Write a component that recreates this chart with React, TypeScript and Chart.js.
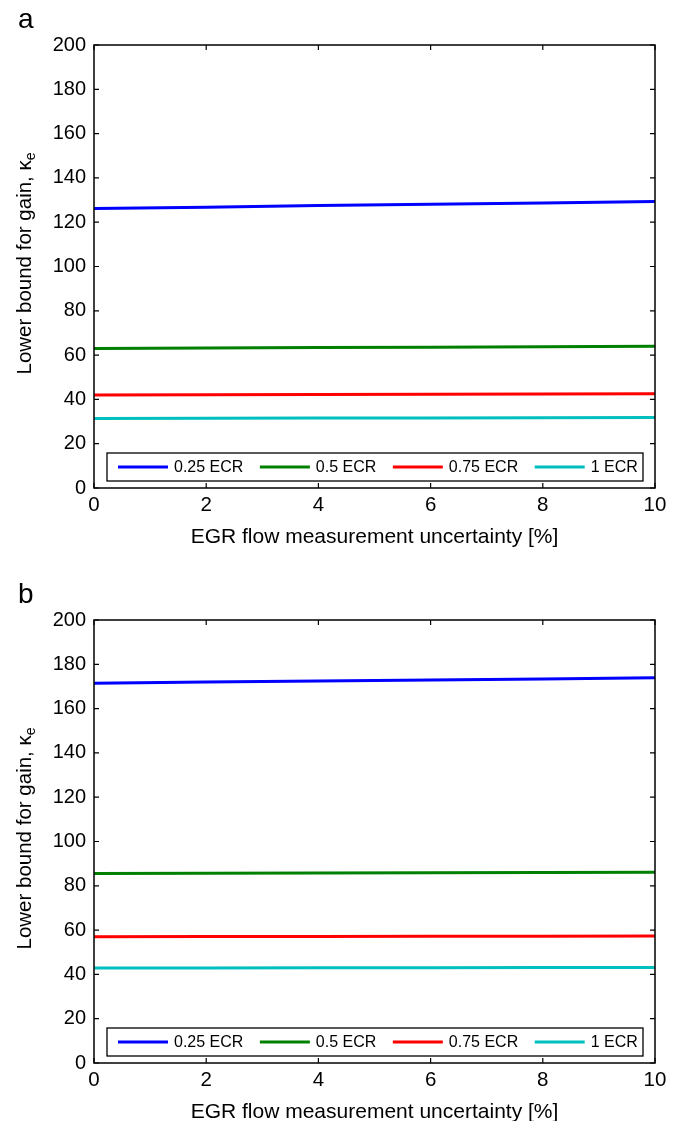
import React, { useEffect, useRef } from "react";
import { Chart, registerables } from "chart.js";

Chart.register(...registerables);

const FONT = '"Liberation Sans", Arial, Helvetica, sans-serif';

// x values: EGR flow measurement uncertainty [%]
const xValues = [0, 2, 4, 6, 8, 10];
const xTicks = [0, 2, 4, 6, 8, 10];
const yTicks = [0, 20, 40, 60, 80, 100, 120, 140, 160, 180, 200];

const seriesLabels = ["0.25 ECR", "0.5 ECR", "0.75 ECR", "1 ECR"];
const seriesColors = ["#0000ff", "#008000", "#ff0000", "#00bfbf"];

// panel a
const a025 = [126.2, 126.8, 127.5, 128.1, 128.7, 129.3];
const a05 = [63.0, 63.2, 63.4, 63.6, 63.8, 64.0];
const a075 = [42.0, 42.1, 42.2, 42.3, 42.4, 42.5];
const a1 = [31.4, 31.5, 31.6, 31.6, 31.7, 31.8];

// panel b
const b025 = [171.5, 172.0, 172.5, 172.9, 173.4, 173.9];
const b05 = [85.6, 85.7, 85.8, 85.9, 86.0, 86.1];
const b075 = [57.0, 57.1, 57.1, 57.2, 57.2, 57.3];
const b1 = [42.9, 42.9, 43.0, 43.0, 43.1, 43.1];

const xTitle = "EGR flow measurement uncertainty [%]";
const yTitleMain = "Lower bound for gain, \u03ba";
const yTitleSub = "e";

function makeChart(canvas: HTMLCanvasElement, panel: string, series: number[][]) {
  const decorPlugin = {
    id: "decor" + panel,
    afterDraw(chart: any) {
      const ctx = chart.ctx as CanvasRenderingContext2D;
      const area = chart.chartArea;
      const xs = chart.scales.x;
      const ys = chart.scales.y;
      ctx.save();
      // frame
      ctx.strokeStyle = "#000";
      ctx.lineWidth = 1.5;
      ctx.strokeRect(area.left, area.top, area.right - area.left, area.bottom - area.top);
      // inner ticks
      const tl = 5;
      ctx.lineWidth = 1.2;
      ctx.beginPath();
      xTicks.forEach((v) => {
        const px = xs.getPixelForValue(v);
        ctx.moveTo(px, area.bottom);
        ctx.lineTo(px, area.bottom - tl);
        ctx.moveTo(px, area.top);
        ctx.lineTo(px, area.top + tl);
      });
      yTicks.forEach((v) => {
        const py = ys.getPixelForValue(v);
        ctx.moveTo(area.left, py);
        ctx.lineTo(area.left + tl, py);
        ctx.moveTo(area.right, py);
        ctx.lineTo(area.right - tl, py);
      });
      ctx.stroke();

      // panel letter
      ctx.fillStyle = "#000";
      ctx.font = `28px ${FONT}`;
      ctx.textAlign = "left";
      ctx.textBaseline = "alphabetic";
      ctx.fillText(panel, 18, 28);

      // y title with subscript
      const cy = (area.top + area.bottom) / 2 - 3;
      ctx.save();
      ctx.translate(31, cy);
      ctx.rotate(-Math.PI / 2);
      ctx.font = `20.5px ${FONT}`;
      const w1 = ctx.measureText(yTitleMain).width;
      ctx.font = `14px ${FONT}`;
      const w2 = ctx.measureText(yTitleSub).width;
      const start = -(w1 + w2) / 2;
      ctx.font = `20.5px ${FONT}`;
      ctx.fillText(yTitleMain, start, 0);
      ctx.font = `14px ${FONT}`;
      ctx.fillText(yTitleSub, start + w1, 4);
      ctx.restore();

      // legend
      const bl = area.left + 13;
      const br = area.right - 12;
      const bb = area.bottom - 7;
      const bt = bb - 28;
      ctx.fillStyle = "#fff";
      ctx.fillRect(bl, bt, br - bl, bb - bt);
      ctx.strokeStyle = "#000";
      ctx.lineWidth = 1.3;
      ctx.strokeRect(bl, bt, br - bl, bb - bt);
      const my = (bt + bb) / 2;
      let x = bl + 11;
      ctx.font = `16px ${FONT}`;
      ctx.textBaseline = "middle";
      chart.data.datasets.forEach((ds: any) => {
        ctx.strokeStyle = ds.borderColor;
        ctx.lineWidth = 3;
        ctx.beginPath();
        ctx.moveTo(x, my);
        ctx.lineTo(x + 50, my);
        ctx.stroke();
        x += 56;
        ctx.fillStyle = "#000";
        ctx.fillText(ds.label, x, my + 1);
        x += ctx.measureText(ds.label).width + 16.5;
      });
      ctx.restore();
    },
  };

  return new Chart(canvas, {
    type: "line",
    data: {
      datasets: series.map((vals, i) => ({
        label: seriesLabels[i],
        data: xValues.map((xv, j) => ({ x: xv, y: vals[j] })),
        borderColor: seriesColors[i],
        backgroundColor: seriesColors[i],
        borderWidth: 3,
        pointRadius: 0,
        tension: 0,
        fill: false,
      })),
    },
    options: {
      responsive: false,
      animation: false,
      devicePixelRatio: 1,
      layout: { padding: { top: 45, right: 28, left: 0, bottom: 0 } },
      plugins: {
        legend: { display: false },
        tooltip: { enabled: false },
      },
      scales: {
        x: {
          type: "linear",
          min: 0,
          max: 10,
          afterFit: (s: any) => {
            s.height = 72;
          },
          afterBuildTicks: (s: any) => {
            s.ticks = xTicks.map((v) => ({ value: v }));
          },
          grid: { display: false, drawTicks: false },
          border: { display: false },
          ticks: {
            color: "#000",
            padding: 5,
            maxRotation: 0,
            font: { family: FONT, size: 20.5 },
          },
          title: {
            display: true,
            text: xTitle,
            color: "#000",
            font: { family: FONT, size: 21 },
            padding: { top: 0, bottom: 10 },
          },
        },
        y: {
          type: "linear",
          min: 0,
          max: 200,
          afterFit: (s: any) => {
            s.width = 94;
          },
          afterBuildTicks: (s: any) => {
            s.ticks = yTicks.map((v) => ({ value: v }));
          },
          grid: { display: false, drawTicks: false },
          border: { display: false },
          ticks: {
            color: "#000",
            padding: 8,
            font: { family: FONT, size: 20 },
          },
        },
      },
    },
    plugins: [decorPlugin],
  } as any);
}

function Panel({ panel, series, top }: { panel: string; series: number[][]; top: number }) {
  const ref = useRef<HTMLCanvasElement | null>(null);
  useEffect(() => {
    if (!ref.current) return;
    const chart = makeChart(ref.current, panel, series);
    return () => chart.destroy();
  }, [panel, series]);
  return (
    <canvas
      ref={ref}
      width={683}
      height={560}
      style={{ position: "absolute", left: 0, top, width: 683, height: 560 }}
    />
  );
}

const seriesA = [a025, a05, a075, a1];
const seriesB = [b025, b05, b075, b1];

export default function App() {
  return (
    <div
      style={{
        position: "absolute",
        left: 0,
        top: 0,
        width: 683,
        height: 1121,
        overflow: "hidden",
        background: "#fff",
      }}
    >
      <Panel panel="a" series={seriesA} top={0} />
      <Panel panel="b" series={seriesB} top={575} />
    </div>
  );
}
